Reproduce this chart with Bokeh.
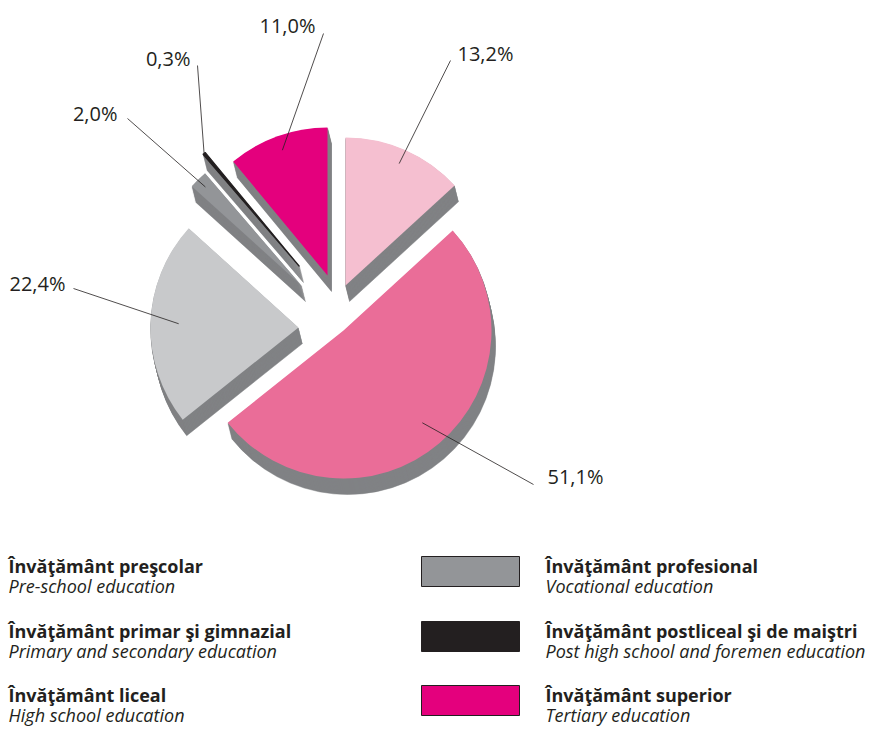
import numpy as np
from bokeh.plotting import figure
from bokeh.models import Range1d, ColumnDataSource
from bokeh.embed import file_html
from bokeh.resources import INLINE
from bokeh.core.properties import value

# ---------------- data ----------------
categories_ro = ["Învăţământ preşcolar", "Învăţământ primar şi gimnazial", "Învăţământ liceal",
                 "Învăţământ profesional", "Învăţământ postliceal şi de maiştri", "Învăţământ superior"]
categories_en = ["Pre-school education", "Primary and secondary education", "High school education",
                 "Vocational education", "Post high school and foremen education", "Tertiary education"]
shares = [13.2, 51.1, 22.4, 2.0, 0.3, 11.0]
share_labels = ["13,2%", "51,1%", "22,4%", "2,0%", "0,3%", "11,0%"]

# ---------------- style ----------------
colors = ["#F5BFD0", "#EA6D98", "#C8C9CB", "#939598", "#231F20", "#E4007D"]
side_color = "#808285"
ink = "#231F20"
FONT = "Open Sans"

W, H = 875, 728
TOP = 744
def sy(v):  # picture pixel row -> data y
    return TOP - v

radius = 148
center = (342, 328)
explode = [(3, -43), (1, 2), (-44, -1), (-41, -43), (-43, -62), (-15, -53)]
depth = (4, 16)
depth_steps = 16
leader_frac = [0.90, 0.82, 0.81, 0.93, 1.0, 0.90]
label_end = [(450, 60), (533, 484), (73, 288), (127, 118), (197, 65), (323, 33)]
label_pos = [(457, 53, "left"), (547, 476, "left"), (65, 283, "right"),
             (117, 113, "right"), (190, 58, "right"), (315, 25, "right")]

# ---------------- geometry from data ----------------
vals = np.array(shares, dtype=float)
frac = vals / vals.sum()
cum = np.concatenate([[0], np.cumsum(frac)])
ang_hi = np.pi / 2 - cum[:-1] * 2 * np.pi   # clockwise from 12 o'clock
ang_lo = np.pi / 2 - cum[1:] * 2 * np.pi
ang_mid = (ang_hi + ang_lo) / 2

apex_x = [center[0] + e[0] for e in explode]
apex_y = [sy(center[1] + e[1]) for e in explode]

p = figure(width=W, height=H, x_range=Range1d(0, W), y_range=Range1d(TOP - H, TOP),
           output_backend="svg", toolbar_location=None, min_border=0,
           x_axis_location=None, y_axis_location=None)
p.grid.visible = False
p.outline_line_color = None
p.background_fill_color = "white"
p.border_fill_color = "white"

# sides (3D extrusion)
sx_, sy_, s0, s1 = [], [], [], []
for i in range(len(vals)):
    for k in range(depth_steps, 0, -1):
        sx_.append(apex_x[i] + depth[0] * k / depth_steps)
        sy_.append(apex_y[i] - depth[1] * k / depth_steps)
        s0.append(ang_lo[i])
        s1.append(ang_hi[i])
p.wedge(x=sx_, y=sy_, radius=radius, start_angle=s0, end_angle=s1,
        fill_color=side_color, line_color=side_color, line_width=0.5)

# tops
top_src = ColumnDataSource(dict(x=apex_x, y=apex_y, a0=ang_lo, a1=ang_hi, c=colors,
                                lw=[0, 0, 0, 0, 1.2, 0]))
p.wedge(x="x", y="y", radius=radius, start_angle="a0", end_angle="a1",
        fill_color="c", line_color="c", line_width="lw", source=top_src)

# leader lines and value labels
for i in range(len(vals)):
    ix = apex_x[i] + leader_frac[i] * radius * np.cos(ang_mid[i])
    iy = apex_y[i] + leader_frac[i] * radius * np.sin(ang_mid[i])
    ex, ey = label_end[i]
    p.line([ix, ex], [iy, sy(ey)], line_color=ink, line_width=0.8)
    tx, ty, al = label_pos[i]
    p.text(x=[tx], y=[sy(ty)], text=[share_labels[i]], text_font=value(FONT),
           text_font_size="20px", text_color=ink, text_align=al, text_baseline="middle")

# legend
legend_cols = [8, 545]
legend_rows = [565, 630, 694]
for j in range(6):
    col, row = divmod(j, 3)
    x0 = legend_cols[col]
    yb = legend_rows[row]
    p.text(x=[x0], y=[sy(yb)], text=[categories_ro[j]], text_font=value(FONT),
           text_font_size="18px", text_font_style="bold", text_color=ink,
           text_align="left", text_baseline="alphabetic")
    p.text(x=[x0], y=[sy(yb + 20)], text=[categories_en[j]], text_font=value(FONT),
           text_font_size="18px", text_font_style="italic", text_color=ink,
           text_align="left", text_baseline="alphabetic")
    if col == 1:
        top = yb - 9
        p.quad(left=[421], right=[519], top=[sy(top)], bottom=[sy(top + 30)],
               fill_color=colors[j], line_color=ink, line_width=1)

open("out.html", "w").write(file_html(p, INLINE))
